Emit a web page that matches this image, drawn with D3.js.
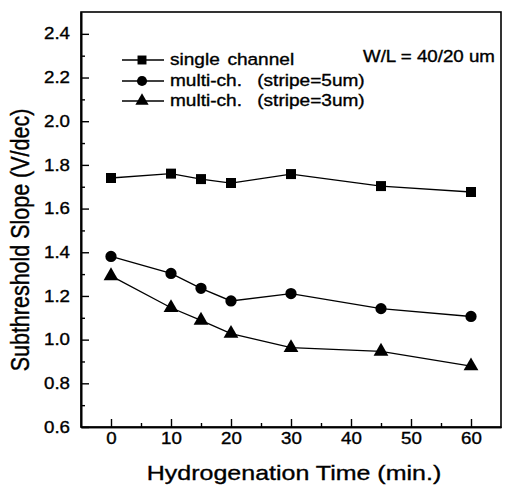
<!DOCTYPE html>
<html><head><meta charset="utf-8">
<script src="https://cdn.jsdelivr.net/npm/d3@7"></script>
<style>
html,body{margin:0;padding:0;background:#fff;}
text{font-family:"Liberation Sans",Arial,Helvetica,sans-serif;fill:#000;stroke:#000;stroke-width:0.35px;white-space:pre;}
</style></head>
<body>
<svg id="c" width="505" height="487"></svg>
<script>
const times = [0, 10, 15, 20, 30, 45, 60];
const singleChannel = [1.74, 1.76, 1.735, 1.717, 1.758, 1.703, 1.676];
const multiStripe5 = [1.381, 1.303, 1.235, 1.177, 1.211, 1.142, 1.106];
const multiStripe3 = [1.292, 1.146, 1.088, 1.028, 0.963, 0.946, 0.879];
const seriesNames = ["single channel", "multi-ch.  (stripe=5um)", "multi-ch.  (stripe=3um)"];
const xTicks = [0, 10, 20, 30, 40, 50, 60];
const yTicks = [0.6, 0.8, 1.0, 1.2, 1.4, 1.6, 1.8, 2.0, 2.2, 2.4];
const annotation = "W/L = 40/20 um";
const xTitle = "Hydrogenation Time (min.)";
const yTitle = "Subthreshold Slope (V/dec)";

const SX = 1.17; // horizontal stretch of the scanned lettering
const svg = d3.select("#c");
const L = 81, R = 501, T = 12, B = 427;
const x = d3.scaleLinear().domain([-5, 65]).range([L, R]);
const y = d3.scaleLinear().domain([0.6, 2.5]).range([B, T]);

// frame
svg.append("rect").attr("x", L).attr("y", T).attr("width", R - L).attr("height", B - T)
  .attr("fill", "none").attr("stroke", "#000").attr("stroke-width", 1.6);

// x axis
const xAxis = d3.axisBottom(x).tickValues(xTicks).tickSizeInner(-8).tickSizeOuter(0).tickPadding(6).tickFormat(d3.format("d"));
const gx = svg.append("g").attr("transform", `translate(0,${B})`).call(xAxis);
const xMinor = d3.axisBottom(x).tickValues(d3.range(-5, 66, 5).filter(v => !xTicks.includes(v) && v > -5 && v < 65)).tickSizeInner(-4).tickSizeOuter(0).tickFormat("");
svg.append("g").attr("transform", `translate(0,${B})`).call(xMinor);

// y axis
const yAxis = d3.axisLeft(y).tickValues(yTicks).tickSizeInner(-8).tickSizeOuter(0).tickPadding(10).tickFormat(d3.format(".1f"));
const gy = svg.append("g").attr("transform", `translate(${L},0)`).call(yAxis);
const yMinor = d3.axisLeft(y).tickValues(d3.range(0.7, 2.5, 0.2).map(v => +v.toFixed(1))).tickSizeInner(-4).tickSizeOuter(0).tickFormat("");
svg.append("g").attr("transform", `translate(${L},0)`).call(yMinor);

svg.selectAll(".domain").attr("stroke", "#000").attr("stroke-width", 1.6);
svg.selectAll(".tick line").attr("stroke", "#000").attr("stroke-width", 1.4);
gx.selectAll(".tick text").attr("font-size", 16).attr("font-family", "Liberation Sans, Arial, sans-serif").attr("fill", "#000")
  .attr("transform", `scale(${SX},1)`);
gy.selectAll(".tick text").attr("font-size", 16).attr("font-family", "Liberation Sans, Arial, sans-serif").attr("fill", "#000")
  .attr("x", -11 / SX).attr("transform", `scale(${SX},1)`);

// titles
svg.append("text").attr("transform", `translate(${(x(-5) + x(65)) / 2 + 3},480) scale(1.19,1)`).attr("text-anchor", "middle")
  .attr("font-size", 21).text(xTitle);
svg.append("text").attr("transform", `translate(29,240) scale(${SX},1) rotate(-90)`).attr("text-anchor", "middle")
  .attr("font-size", 21.5).text(yTitle);

// data series
const seriesVals = [singleChannel, multiStripe5, multiStripe3];
const shapes = [d3.symbolSquare, d3.symbolCircle, d3.symbolTriangle];
const sizes = [100, 100, 95];
const line = d3.line().x(d => x(d[0])).y(d => y(d[1]));
seriesVals.forEach((vals, i) => {
  const pts = times.map((t, j) => [t, vals[j]]);
  svg.append("path").attr("d", line(pts)).attr("fill", "none").attr("stroke", "#000").attr("stroke-width", 1.3);
  svg.append("g").selectAll("path").data(pts).join("path")
    .attr("transform", d => `translate(${x(d[0])},${y(d[1])})`)
    .attr("d", d3.symbol().type(shapes[i]).size(sizes[i]))
    .attr("fill", "#000");
});

// legend
const legY = [60, 81, 101];
seriesNames.forEach((name, i) => {
  const g = svg.append("g").attr("transform", `translate(0,${legY[i]})`);
  g.append("line").attr("x1", 122).attr("x2", 164).attr("y1", 0).attr("y2", 0).attr("stroke", "#000").attr("stroke-width", 1.3);
  g.append("path").attr("transform", "translate(142,0)").attr("d", d3.symbol().type(shapes[i]).size(sizes[i] * 0.8)).attr("fill", "#000");
  g.append("text").attr("transform", `translate(170,5) scale(${SX},1)`).attr("font-size", 16.3)
    .attr("word-spacing", 2).text(name);
});
svg.append("text").attr("transform", `translate(363,62) scale(${SX},1)`).attr("font-size", 16).text(annotation);
</script>
</body></html>
